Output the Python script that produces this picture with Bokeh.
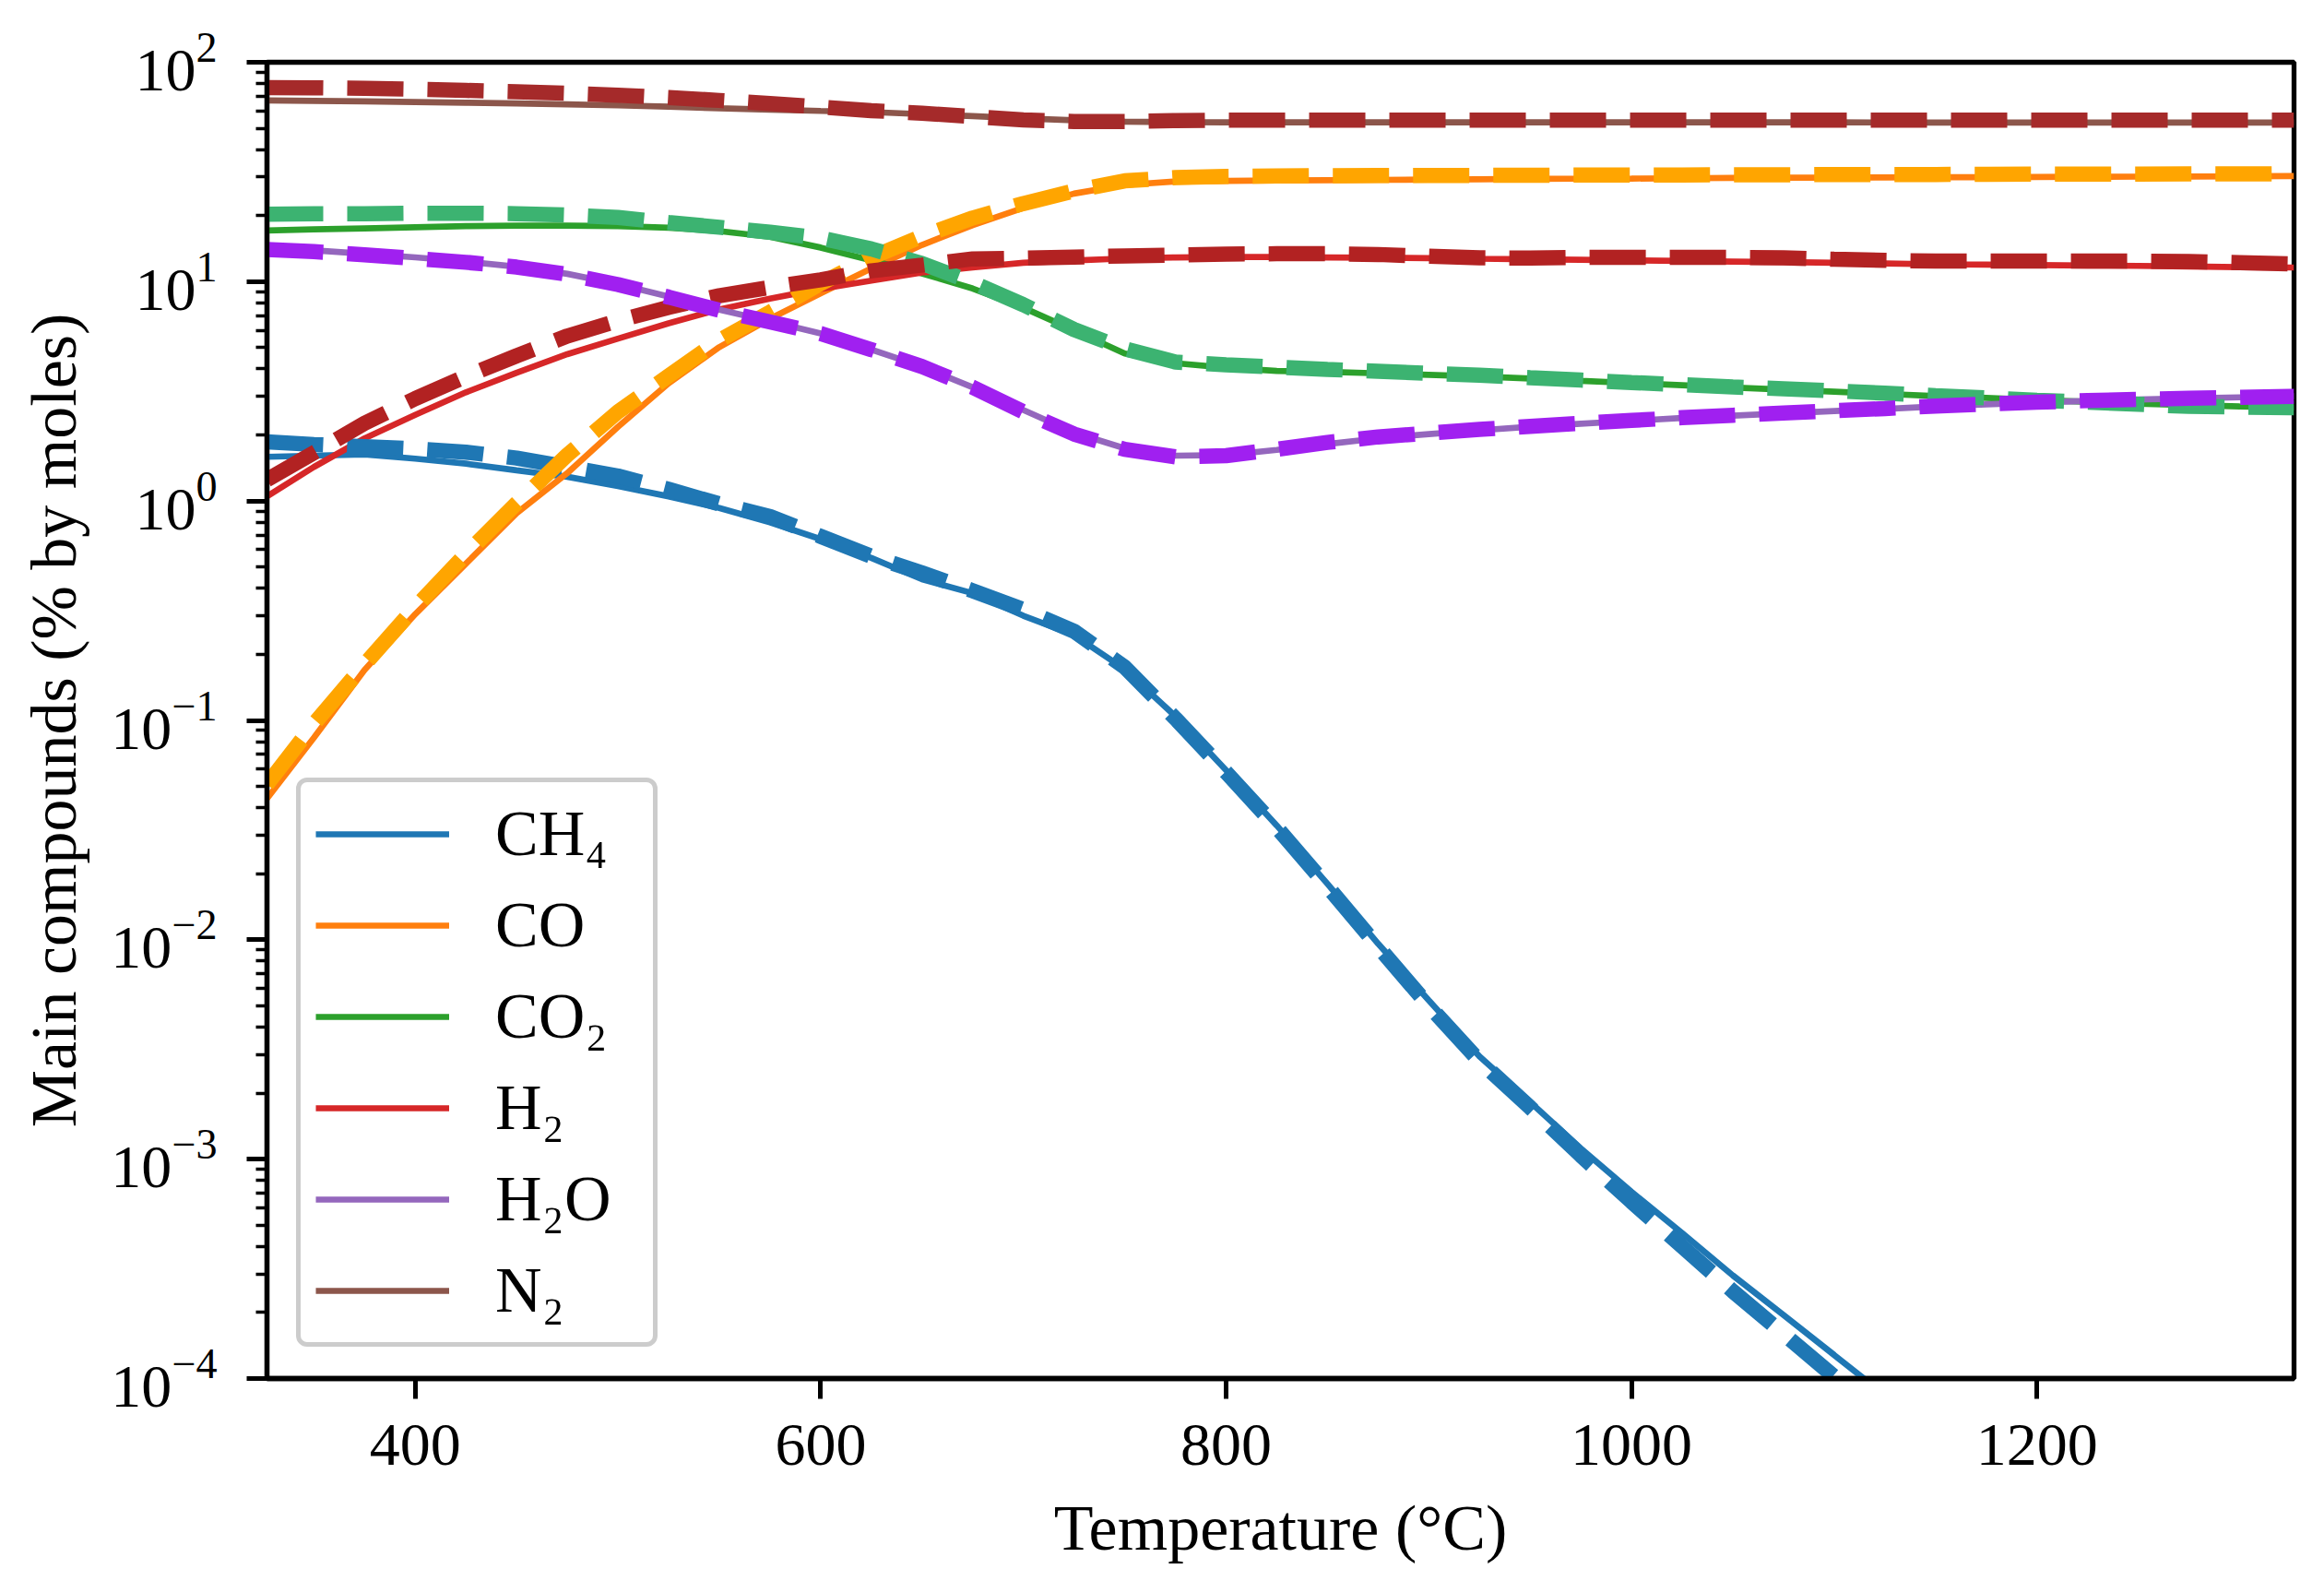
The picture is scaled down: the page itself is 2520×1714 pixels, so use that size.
from bokeh.plotting import figure
from bokeh.models import Range1d, FixedTicker, Legend, LegendItem
from bokeh.embed import file_html
from bokeh.resources import INLINE

# ---------------- data ----------------
temperature = [326.85, 350, 375, 400, 425, 450, 475, 500, 525, 550, 575, 600, 625, 650,
               675, 700, 725, 750, 775, 800, 825, 850, 875, 900, 925, 950, 975, 1000,
               1025, 1050, 1075, 1100, 1125, 1150, 1175, 1200, 1225, 1250, 1275, 1300,
               1325, 1326.85]

species = ["CH₄", "CO", "CO₂", "H₂", "H₂O", "N₂"]

# solid lines (model 1)
ch4_solid = [1.59, 1.61, 1.63, 1.56, 1.48, 1.38, 1.29, 1.17, 1.05, 0.93, 0.80, 0.67, 0.55,
             0.44, 0.38, 0.30, 0.245, 0.171, 0.1045, 0.0593, 0.0332, 0.0180, 0.0096, 0.0053,
             0.00294, 0.00182, 0.00112, 0.00071, 0.00046, 0.000295, 0.000195, 0.000128,
             0.000084]
co_solid = [0.044, 0.0834, 0.170, 0.305, 0.518, 0.88, 1.34, 2.18, 3.44, 5.03, 6.78, 8.85,
            11.5, 14.7, 18.1, 21.7, 25.2, 27.6, 28.6, 28.8, 28.9, 29.0, 29.1, 29.2, 29.3,
            29.4, 29.45, 29.5, 29.6, 29.7, 29.75, 29.8, 29.85, 29.9, 29.95, 30.0, 30.05,
            30.1, 30.15, 30.2, 30.3, 30.3]
co2_solid = [17.1, 17.3, 17.5, 17.7, 17.9, 18.0, 18.0, 17.9, 17.6, 17.0, 16.0, 14.3, 12.5,
             10.9, 9.3, 7.6, 6.0, 4.7, 4.25, 4.05, 3.92, 3.88, 3.82, 3.76, 3.70, 3.62, 3.53,
             3.45, 3.37, 3.29, 3.22, 3.15, 3.08, 3.01, 2.95, 2.89, 2.83, 2.78, 2.74, 2.70,
             2.67, 2.67]
h2_solid = [1.05, 1.43, 1.93, 2.47, 3.13, 3.84, 4.67, 5.50, 6.46, 7.47, 8.36, 9.27, 10.1,
            11.0, 11.6, 12.2, 12.5, 12.75, 12.9, 12.95, 12.95, 12.9, 12.85, 12.8, 12.72,
            12.65, 12.58, 12.5, 12.42, 12.35, 12.28, 12.2, 12.1, 12.0, 11.95, 11.9, 11.85,
            11.8, 11.72, 11.65, 11.6, 11.6]
h2o_solid = [14.3, 13.9, 13.4, 12.9, 12.35, 11.7, 10.85, 9.75, 8.55, 7.45, 6.6, 5.8, 4.9,
             4.1, 3.3, 2.6, 2.05, 1.74, 1.61, 1.62, 1.71, 1.82, 1.93, 2.02, 2.10, 2.18, 2.25,
             2.32, 2.39, 2.45, 2.51, 2.57, 2.63, 2.70, 2.76, 2.81, 2.86, 2.90, 2.94, 2.97,
             3.0, 3.0]
n2_solid = [67.0, 66.7, 66.3, 65.9, 65.4, 64.9, 64.3, 63.6, 62.7, 61.7, 60.8, 60.0, 59.3,
            58.0, 56.8, 55.5, 54.4, 53.6, 53.3, 53.2, 53.2, 53.2, 53.2, 53.2, 53.2, 53.2,
            53.2, 53.2, 53.2, 53.2, 53.2, 53.2, 53.15, 53.15, 53.15, 53.1, 53.1, 53.1, 53.1,
            53.1, 53.1, 53.1]

# dashed lines (model 2)
ch4_dashed = [1.86, 1.81, 1.77, 1.73, 1.67, 1.57, 1.43, 1.30, 1.13, 0.97, 0.85, 0.69, 0.56,
              0.47, 0.39, 0.32, 0.255, 0.175, 0.102, 0.058, 0.0325, 0.0175, 0.0093, 0.0050,
              0.0028, 0.00172, 0.00104, 0.00064, 0.00040, 0.00025, 0.00016, 0.000102,
              0.000066]
co_dashed = [0.051, 0.0964, 0.18, 0.328, 0.574, 0.976, 1.62, 2.55, 3.72, 5.40, 7.26, 9.8,
             12.9, 16.1, 19.5, 22.7, 25.9, 28.8, 29.8, 30.2, 30.3, 30.4, 30.45, 30.5, 30.5,
             30.55, 30.6, 30.6, 30.65, 30.7, 30.7, 30.75, 30.8, 30.8, 30.85, 30.9, 30.9,
             30.95, 31.0, 31.0, 31.0, 31.0]
co2_dashed = [20.3, 20.4, 20.4, 20.5, 20.5, 20.4, 20.1, 19.6, 18.6, 17.7, 16.8, 15.8, 14.1,
              12.1, 9.9, 7.85, 6.05, 4.94, 4.3, 4.18, 4.08, 3.98, 3.90, 3.82, 3.75, 3.65,
              3.56, 3.47, 3.39, 3.31, 3.25, 3.18, 3.10, 3.02, 2.95, 2.88, 2.82, 2.76, 2.70,
              2.68, 2.66, 2.66]
h2_dashed = [1.25, 1.66, 2.26, 2.93, 3.70, 4.59, 5.65, 6.64, 7.63, 8.63, 9.42, 10.2, 11.2,
             11.9, 12.7, 12.8, 12.95, 13.1, 13.2, 13.35, 13.4, 13.4, 13.3, 13.05, 12.85, 12.8,
             12.9, 12.9, 12.9, 12.9, 12.85, 12.65, 12.5, 12.4, 12.4, 12.4, 12.4, 12.4, 12.35,
             12.2, 12.05, 12.05]
h2o_dashed = [14.0, 13.7, 13.25, 12.75, 12.25, 11.65, 10.8, 9.7, 8.5, 7.4, 6.55, 5.8, 4.9,
              4.1, 3.3, 2.55, 2.02, 1.72, 1.59, 1.61, 1.72, 1.85, 1.96, 2.04, 2.12, 2.19,
              2.26, 2.33, 2.40, 2.46, 2.52, 2.58, 2.64, 2.71, 2.77, 2.82, 2.87, 2.91, 2.94,
              2.97, 3.0, 3.0]
n2_dashed = [76.7, 76.5, 76.0, 75.3, 74.4, 73.4, 72.2, 70.8, 69.0, 67.0, 64.8, 62.5, 60.2,
             58.6, 56.5, 54.6, 53.7, 53.7, 54.2, 54.5, 54.5, 54.5, 54.5, 54.5, 54.5, 54.5,
             54.5, 54.5, 54.5, 54.5, 54.5, 54.5, 54.5, 54.5, 54.5, 54.5, 54.5, 54.5, 54.5,
             54.5, 54.5, 54.5]

x_ticks = [400, 600, 800, 1000, 1200]
y_major = [1e-4, 1e-3, 1e-2, 1e-1, 1e0, 1e1, 1e2]
y_minor = [m * 10.0 ** k for k in range(-4, 2) for m in range(2, 10)]

solid_colors = ["#1f77b4", "#ff7f0e", "#2ca02c", "#d62728", "#9467bd", "#8c564b"]
dashed_colors = ["#1f77b4", "#ffa500", "#3cb371", "#b22222", "#a020f0", "#a52a2a"]

solid_series = [ch4_solid, co_solid, co2_solid, h2_solid, h2o_solid, n2_solid]
dashed_series = [ch4_dashed, co_dashed, co2_dashed, h2_dashed, h2o_dashed, n2_dashed]

FONT = "Liberation Serif"

# ---------------- figure ----------------
p = figure(frame_width=2198, frame_height=1427,
           y_axis_type="log",
           x_range=Range1d(326.85, 1326.85), y_range=Range1d(1e-4, 1e2),
           output_backend="svg", toolbar_location=None,
           min_border_left=289, min_border_right=25,
           min_border_top=67, min_border_bottom=205)
p.grid.visible = False
p.outline_line_color = "black"
p.outline_line_width = 5.3
p.outline_line_alpha = 1.0
p.background_fill_color = "white"
p.border_fill_color = "white"

solid_renderers = []
for vals, col in zip(solid_series, solid_colors):
    r = p.line(temperature[:len(vals)], vals, line_color=col, line_width=6.7)
    solid_renderers.append(r)
for vals, col in zip(dashed_series, dashed_colors):
    p.line(temperature[:len(vals)], vals, line_color=col, line_width=16.5,
           line_dash="61 26")

# axes
xa = p.xaxis[0]
ya = p.yaxis[0]
xa.ticker = FixedTicker(ticks=x_ticks)
ya.ticker = FixedTicker(ticks=y_major, minor_ticks=y_minor)
for ax in (xa, ya):
    ax.axis_line_width = 5.3
    ax.axis_line_color = "black"
    ax.major_tick_line_width = 5
    ax.major_tick_out = 22
    ax.major_tick_in = 0
    ax.minor_tick_line_width = 3.3
    ax.minor_tick_out = 12
    ax.minor_tick_in = 0
    ax.major_label_text_font = FONT
    ax.major_label_text_font_size = "66px"
    ax.major_label_text_color = "black"
    ax.axis_label_text_font = FONT
    ax.axis_label_text_font_size = "70px"
    ax.axis_label_text_font_style = "normal"
    ax.axis_label_text_color = "black"
xa.major_label_standoff = 28
xa.axis_label_standoff = 27
ya.major_label_standoff = 32
ya.axis_label_standoff = 20
xa.axis_label = "Temperature (°C)"
ya.axis_label = "Main compounds (% by moles)"

# legend
items = [LegendItem(label=name, renderers=[r]) for name, r in zip(species, solid_renderers)]
legend = Legend(items=items, location=(32, 34))
legend.label_text_font = FONT
legend.label_text_font_size = "70px"
legend.label_text_color = "black"
legend.glyph_width = 145
legend.glyph_height = 80
legend.label_height = 80
legend.label_width = 155
legend.label_standoff = 50
legend.spacing = 19
legend.padding = 16
legend.margin = 0
legend.border_line_color = "#cccccc"
legend.border_line_width = 5
legend.border_line_alpha = 1.0
legend.background_fill_color = "white"
legend.background_fill_alpha = 0.8
try:
    legend.border_radius = 12
except Exception:
    pass
p.add_layout(legend)

open("out.html", "w").write(file_html(p, INLINE))
